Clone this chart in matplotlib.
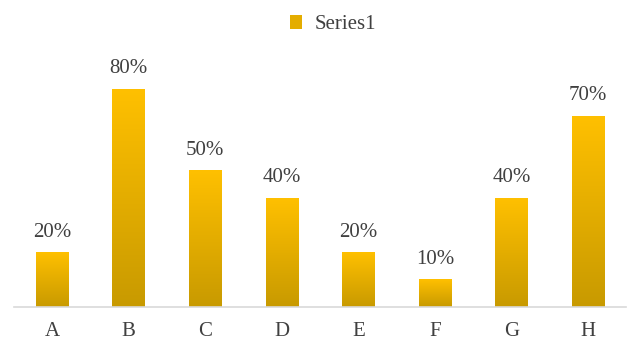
import numpy as np
import matplotlib.pyplot as plt
from matplotlib.colors import LinearSegmentedColormap
from matplotlib.patches import Patch

categories = ['A', 'B', 'C', 'D', 'E', 'F', 'G', 'H']
values = [0.20, 0.80, 0.50, 0.40, 0.20, 0.10, 0.40, 0.70]
labels = ['20%', '80%', '50%', '40%', '20%', '10%', '40%', '70%']

plt.rcParams['font.family'] = ['Liberation Serif', 'DejaVu Serif']
text_color = '#404040'

fig = plt.figure(figsize=(6.28, 3.41), dpi=100)
ax = fig.add_axes([13.7 / 628, 1 - 307 / 341, 612.6 / 628, (307 - 34.5) / 341])

cmap = LinearSegmentedColormap.from_list('gold', ['#c89a00', '#ffc000'])
grad = np.linspace(0, 1, 256).reshape(-1, 1)
x = np.arange(len(categories))
width = 0.42

bars = ax.bar(x, values, width=width, color='none', edgecolor='none')
for b, lab in zip(bars, labels):
    x0, y0 = b.get_x(), b.get_y()
    ax.imshow(grad, cmap=cmap, origin='lower', aspect='auto',
              extent=(x0, x0 + b.get_width(), y0, y0 + b.get_height()), zorder=2)
    ax.text(b.get_x() + b.get_width() / 2, b.get_height() + 0.04, lab,
            ha='center', va='bottom', fontsize=15, color=text_color)

ax.set_xlim(-0.5, len(categories) - 0.5)
ax.set_ylim(0, 1.0)
ax.set_xticks(x, categories)
ax.set_yticks([])
ax.tick_params(axis='x', length=0, pad=11, labelsize=15, labelcolor=text_color)
for s in ['top', 'right', 'left']:
    ax.spines[s].set_visible(False)
ax.spines['bottom'].set_color('#d9d9d9')
ax.spines['bottom'].set_linewidth(1.2)

fig.legend(handles=[Patch(facecolor='#e4ad00', label='Series1')],
           loc='upper center', bbox_to_anchor=(0.53, 1.01), frameon=False,
           fontsize=15, labelcolor=text_color, handlelength=0.6, handleheight=0.6,
           handletextpad=0.6)

fig.savefig('out.png', dpi=100)
